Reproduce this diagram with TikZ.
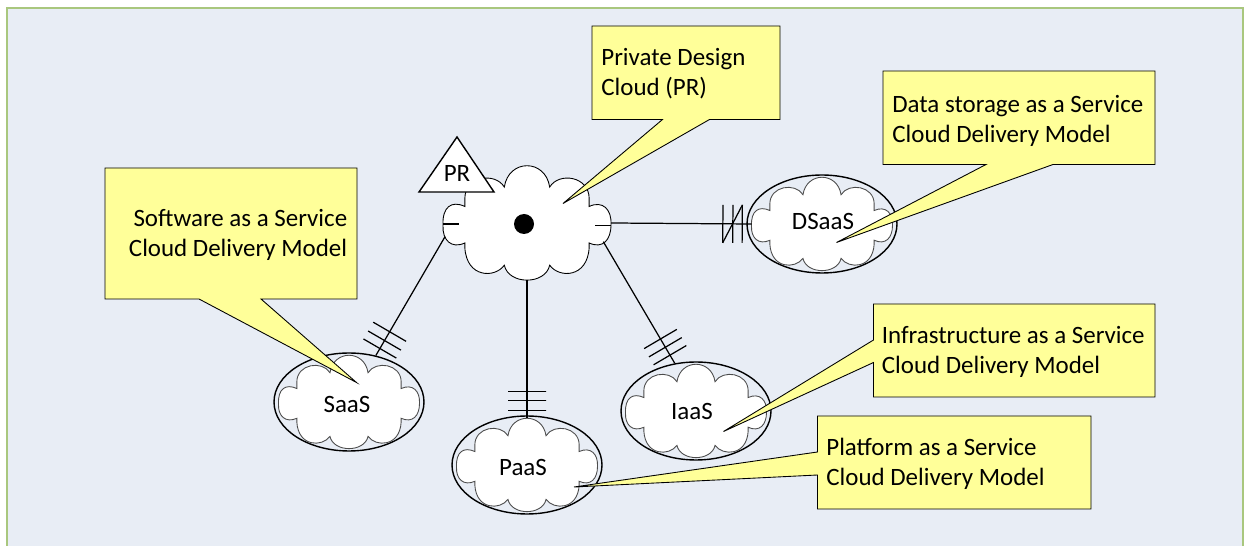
\documentclass[tikz,border=0pt]{standalone}
\usepackage{fontspec}
\setmainfont{Carlito}
\usetikzlibrary{shapes.geometric}
\definecolor{panelfill}{HTML}{E8EDF5}
\definecolor{panelline}{HTML}{A9C77E}
\definecolor{noteyellow}{HTML}{FFFF99}
\newcommand{\puffpath}{(-1,.04)
  .. controls (-1.01,-.28) and (-.9,-.4) .. (-.74,-.29) -- (-.74,-.43)
  .. controls (-.74,-.82) and (-.38,-.9) .. (-.27,-.63)
  .. controls (-.22,-1.13) and (.22,-1.13) .. (.27,-.63)
  .. controls (.38,-.9) and (.74,-.82) .. (.74,-.43) -- (.74,-.29)
  .. controls (.9,-.4) and (1.01,-.24) .. (1,.03)
  .. controls (1,.3) and (.9,.46) .. (.74,.35) -- (.74,.43)
  .. controls (.72,.97) and (.38,.97) .. (.27,.74)
  .. controls (.22,1.09) and (-.22,1.09) .. (-.27,.74)
  .. controls (-.38,.97) and (-.72,.97) .. (-.74,.43) -- (-.74,.35)
  .. controls (-.9,.46) and (-1.01,.3) .. (-1,.04) -- cycle}
\tikzset{
  puffy/.style={draw, fill=white, line width=0.5pt},
  modelring/.style={draw, ellipse, line width=0.8pt, minimum width=3cm, minimum height=1.96cm, inner sep=0pt},
  modelbody/.style={minimum width=2.82cm, minimum height=1.87cm, inner sep=0pt, outer sep=0pt},
  link/.style={line width=0.7pt},
  tickbar/.style={draw, sloped, line width=0.7pt, minimum height=0.76cm, minimum width=0pt, inner sep=0pt, outer sep=0pt},
  note/.style={draw, fill=noteyellow, line width=0.5pt, line join=miter},
  notetext/.style={align=left, inner sep=0pt}
}
\begin{document}
\begin{tikzpicture}[x=0.02cm, y=-0.02cm, every node/.append style={font=\fontsize{14.2}{17}\selectfont}]
  % Fondo
  \useasboundingbox (0,0) rectangle (1250,546);
  \draw[panelline, fill=panelfill, line width=1.2pt] (7,8) rectangle (1243,560);

  % Nubes
  \foreach \name/\cx/\cy/\tx/\ty in {SaaS/349/402/347/404, PaaS/527/465/523/467, IaaS/696/411/692/411, DSaaS/822/224/823/222} {
    \node[modelring] (\name ring) at (\cx,\cy) {};
    \draw[puffy, draw=black!70, shift={(\cx,\cy)}, xscale=70.5, yscale=46.5] \puffpath;
    \node[modelbody] (\name) at (\cx,\cy) {};
    \node[inner sep=0pt] (\name text) at (\tx,\ty) {\name};
  }
  \draw[puffy, shift={(527,223)}, xscale=84, yscale=57] \puffpath;
  \node[minimum width=3.36cm, minimum height=2.28cm, inner sep=0pt, outer sep=0pt] (PR) at (527,223) {};
  \node[circle, fill=black, minimum size=0.4cm, inner sep=0pt] (PRdot) at (524,224) {};
  \draw[fill=white, line width=0.8pt] (457,137) -- (494,192) -- (419,192) -- cycle;
  \node[inner sep=0pt] (PRflag) at (457,174) {PR};
  \coordinate (PRleft) at (445,236.7);
  \coordinate (PRright) at (603.3,241.7);
  \coordinate (PRside) at (611,223);

  % Aristas
  \draw[link] (443,224) -- (459,224);
  \draw[link] (595,225.5) -- (611,225.5);
  \draw[link] (PRleft) -- (SaaSring.60)
    node[tickbar, pos=0.8] (s1) {} node[tickbar, pos=0.874] (s2) {} node[tickbar, pos=0.941] (s3) {};
  \draw[link] (PR.south) -- (PaaS.north)
    node[tickbar, pos=0.806] (p1) {} node[tickbar, pos=0.873] (p2) {} node[tickbar, pos=0.942] (p3) {};
  \draw[link] (PRright) -- (IaaSring.114)
    node[tickbar, pos=0.8] (i1) {} node[tickbar, pos=0.868] (i2) {} node[tickbar, pos=0.933] (i3) {};
  \draw[link] (PRside) -- (DSaaS.west)
    node[tickbar, pos=0.796] (d1) {} node[tickbar, pos=0.867] (d2) {} node[tickbar, pos=0.934] (d3) {};
  \draw[link] (d1.south) -- (d3.north);

  % Notas
  \draw[note] (592,26) -- (780,26) -- (780,119.5) -- (709.5,119.5) -- (563,203.5) -- (662.5,119.5) -- (592,119.5) -- cycle;
  \draw[note] (883,71) -- (1155,71) -- (1155,164.5) -- (1053,164.5) -- (836.5,242.5) -- (986,164.5) -- (883,164.5) -- cycle;
  \draw[note] (105,168) -- (357,168) -- (357,299) -- (261,299) -- (356.5,382.5) -- (199,299) -- (105,299) -- cycle;
  \draw[note] (873.5,304) -- (1155,304) -- (1155,397) -- (873.5,397) -- (873.5,362.5) -- (723.5,431.5) -- (873.5,340) -- cycle;
  \draw[note] (817.5,416) -- (1091,416) -- (1091,509) -- (817.5,509) -- (817.5,475) -- (574,487) -- (817.5,452) -- cycle;
  \node[notetext, anchor=north west] (PRnote) at (601,48) {Private Design\\Cloud (PR)};
  \node[notetext, anchor=north west] (DSaaSnote) at (892,95) {Data storage as a Service\\Cloud Delivery Model};
  \node[notetext, anchor=north east, align=right] (SaaSnote) at (347.5,209) {Software as a Service\\Cloud Delivery Model};
  \node[notetext, anchor=north west] (IaaSnote) at (881.5,326) {Infrastructure as a Service\\Cloud Delivery Model};
  \node[notetext, anchor=north west] (PaaSnote) at (826,438) {Platform as a Service\\Cloud Delivery Model};
\end{tikzpicture}
\end{document}
